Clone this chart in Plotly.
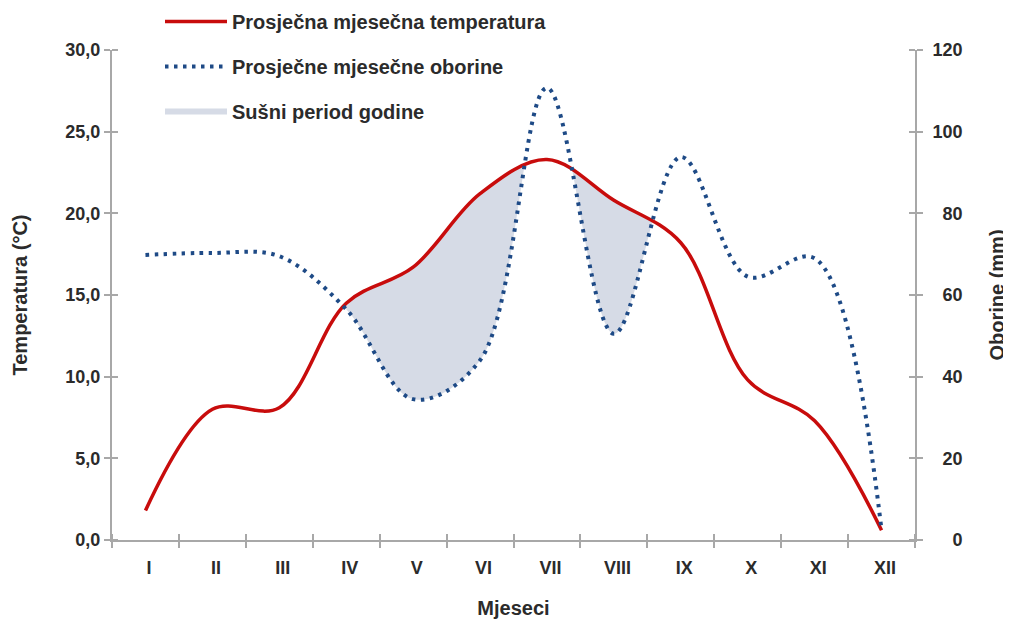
import numpy as np
import plotly.graph_objects as go

# ---------------- data ----------------
months = ["I", "II", "III", "IV", "V", "VI", "VII", "VIII", "IX", "X", "XI", "XII"]
temperature = [1.8, 8.0, 8.1, 14.5, 16.7, 21.2, 23.3, 20.8, 18.2, 9.8, 7.3, 0.6]      # °C
precipitation = [69.8, 70.3, 69.5, 56.5, 34.5, 44.0, 110.7, 50.5, 93.8, 64.5, 69.0, 2.4]  # mm
temp_ticks = [0, 5, 10, 15, 20, 25, 30]
prec_ticks = [0, 20, 40, 60, 80, 100, 120]

name_temp = "Prosječna mjesečna temperatura"
name_prec = "Prosječne mjesečne oborine"
name_dry = "Sušni period godine"

# ---------------- geometry ----------------
BODY = 8  # default page margin of the html body
FIG_W, FIG_H = 1011, 626
PL, PR, PT, PB = 112, 915, 50, 540     # plot area on screen
M_L, M_T = PL - BODY, PT - BODY
PW, PH = PR - PL, PB - PT
M_R = FIG_W - M_L - PW
M_B = FIG_H - M_T - PH
X_RANGE = [-0.5, 11.5]
T_MAX, P_MAX = temp_ticks[-1], prec_ticks[-1]

RED = "#c80c0c"
BLUE = "#1e4a86"
FILL = "#d6dbe6"
AXIS = "#a8a8a8"
TXT = "#2b2b2b"
FONT = "Liberation Sans"

xi = np.arange(len(months), dtype=float)


def to_px(x, y, ymax):
    px = (np.asarray(x) - X_RANGE[0]) / (X_RANGE[1] - X_RANGE[0]) * PW
    py = (1 - np.asarray(y) / ymax) * PH
    return np.column_stack([px, py])


def tangent(p0, p1, p2, s=1.0):
    # same construction plotly.js uses for line.shape = 'spline'
    d1 = p0 - p1
    d2 = p2 - p1
    d1a = (d1 @ d1) ** 0.25
    d2a = (d2 @ d2) ** 0.25
    num = (d2a ** 2 * d1 - d1a ** 2 * d2) * s
    den1 = 3 * d2a * (d1a + d2a)
    den2 = 3 * d1a * (d1a + d2a)
    return p1 + num / den1, p1 - num / den2


def spline_curve(x, y, ymax, n=120):
    pts = to_px(x, y, ymax)
    tg = [tangent(pts[i - 1], pts[i], pts[i + 1]) for i in range(1, len(pts) - 1)]
    t = np.linspace(0, 1, n)[:, None]

    def quad(a, b, c):
        return (1 - t) ** 2 * a + 2 * (1 - t) * t * b + t ** 2 * c

    def cub(a, b, c, d):
        return (1 - t) ** 3 * a + 3 * (1 - t) ** 2 * t * b + 3 * (1 - t) * t ** 2 * c + t ** 3 * d

    segs = [quad(pts[0], tg[0][0], pts[1])]
    for i in range(2, len(pts) - 1):
        segs.append(cub(pts[i - 1], tg[i - 2][1], tg[i - 1][0], pts[i]))
    segs.append(quad(pts[-2], tg[-1][1], pts[-1]))
    c = np.vstack(segs)
    cx = c[:, 0] / PW * (X_RANGE[1] - X_RANGE[0]) + X_RANGE[0]
    cy = (1 - c[:, 1] / PH) * T_MAX  # expressed on the temperature scale
    order = np.argsort(cx, kind="stable")
    return cx[order], cy[order]


tx, ty = spline_curve(xi, temperature, T_MAX)
px_, py_ = spline_curve(xi, precipitation, P_MAX)
grid = np.linspace(xi[0], xi[-1], 4401)
tg_ = np.interp(grid, tx, ty)
pg_ = np.interp(grid, px_, py_)
dry = tg_ > pg_ + 1e-6

fill_x, fill_y = [], []
i = 0
while i < len(grid):
    if dry[i]:
        j = i
        while j + 1 < len(grid) and dry[j + 1]:
            j += 1
        a, b = max(i - 1, 0), min(j + 1, len(grid) - 1)
        if grid[b] - grid[a] > 0.1:
            seg_x = list(grid[a:b + 1]) + list(grid[a:b + 1][::-1])
            seg_y = list(tg_[a:b + 1]) + list(pg_[a:b + 1][::-1])
            if fill_x:
                fill_x.append(None)
                fill_y.append(None)
            fill_x += seg_x
            fill_y += seg_y
        i = j + 1
    else:
        i += 1

fig = go.Figure()
fig.add_trace(go.Scatter(
    x=fill_x, y=fill_y, mode="none", fill="toself", fillcolor=FILL,
    name=name_dry, legendrank=3, legendgroup="c", hoverinfo="skip", yaxis="y"))
fig.add_trace(go.Scatter(
    x=xi, y=precipitation, mode="lines", name=name_prec, legendrank=2, legendgroup="b",
    line=dict(shape="spline", smoothing=1, color=BLUE, width=4, dash="3.5px,5.5px"),
    yaxis="y2"))
fig.add_trace(go.Scatter(
    x=xi, y=temperature, mode="lines", name=name_temp, legendrank=1, legendgroup="a",
    line=dict(shape="spline", smoothing=1, color=RED, width=3.5),
    yaxis="y"))

boundaries = [b - 0.5 for b in range(len(months) + 1)]
prec_labels = [str(v).rjust(3, "\u2007") for v in prec_ticks]
tick_font = dict(family=FONT, size=18, color=TXT, weight="bold")
title_font = dict(family=FONT, size=20, color=TXT, weight="bold")

fig.update_layout(
    width=FIG_W, height=FIG_H,
    margin=dict(l=M_L, r=M_R, t=M_T, b=M_B, autoexpand=False),
    paper_bgcolor="white", plot_bgcolor="white",
    separators=",.",
    showlegend=True,
    legend=dict(
        x=(160 - PL) / PW, xanchor="left",
        y=1 + (PT - 2) / PH, yanchor="top",
        font=dict(family=FONT, size=20, color=TXT, weight="bold"),
        itemwidth=62, tracegroupgap=16, bgcolor="rgba(0,0,0,0)",
        traceorder="grouped"),
    xaxis=dict(
        range=X_RANGE, tickmode="array", tickvals=boundaries,
        ticktext=months + [""], ticklabelshift=int(round(PW / 24)) + 4,
        ticklabelstandoff=4,
        ticks="outside", ticklen=6, tickwidth=1.5, tickcolor=AXIS,
        minor=dict(tickmode="array", tickvals=[b + 1e-4 for b in boundaries],
                   ticks="inside", ticklen=6, tickwidth=1.5, tickcolor=AXIS),
        showline=True, linecolor=AXIS, linewidth=2,
        showgrid=False, zeroline=False, tickfont=tick_font,
        title=dict(text="Mjeseci", font=title_font, standoff=24),
        automargin=False, fixedrange=True),
    yaxis=dict(
        range=[0, T_MAX], tickmode="array", tickvals=temp_ticks, tickformat=".1f",
        ticks="outside", ticklen=6, tickwidth=1.5, tickcolor=AXIS,
        minor=dict(tickmode="array", tickvals=[v + 1e-4 for v in temp_ticks],
                   ticks="inside", ticklen=6, tickwidth=1.5, tickcolor=AXIS),
        showline=True, linecolor=AXIS, linewidth=2,
        showgrid=False, zeroline=False, tickfont=tick_font,
        title=dict(text="Temperatura (°C)", font=title_font, standoff=32),
        automargin=False, fixedrange=True),
    yaxis2=dict(
        range=[0, P_MAX], tickmode="array", tickvals=prec_ticks, ticktext=prec_labels,
        overlaying="y", side="right", ticklabelstandoff=6,
        ticks="outside", ticklen=6, tickwidth=1.5, tickcolor=AXIS,
        minor=dict(tickmode="array", tickvals=[v + 1e-4 for v in prec_ticks],
                   ticks="inside", ticklen=6, tickwidth=1.5, tickcolor=AXIS),
        showline=True, linecolor=AXIS, linewidth=2,
        showgrid=False, zeroline=False, tickfont=tick_font,
        title=dict(text="Oborine (mm)", font=title_font, standoff=28),
        automargin=False, fixedrange=True),
)

fig.write_html("out.html")
